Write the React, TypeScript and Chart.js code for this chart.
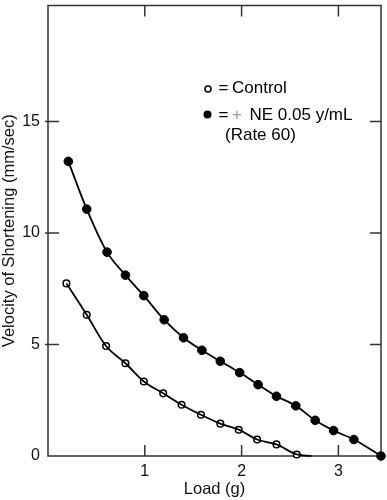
import React, { useEffect, useRef } from 'react';
import { Chart, registerables } from 'chart.js';

Chart.register(...registerables);

// Control (open circles)
const controlLoad = [0.19, 0.40, 0.60, 0.80, 0.99, 1.19, 1.38, 1.58, 1.78, 1.97, 2.16, 2.36, 2.57];
const controlVelocity = [7.74, 6.33, 4.93, 4.16, 3.34, 2.81, 2.30, 1.85, 1.45, 1.18, 0.74, 0.52, 0.07];
// where the control curve meets the load axis
const controlCurveEndLoad = [2.72];
const controlCurveEndVelocity = [0];

// + NE 0.05 y/mL (filled circles)
const neLoad = [0.21, 0.40, 0.61, 0.80, 0.99, 1.20, 1.40, 1.59, 1.78, 1.98, 2.17, 2.36, 2.56, 2.76, 2.95, 3.16, 3.44];
const neVelocity = [13.21, 11.07, 9.14, 8.11, 7.19, 6.11, 5.30, 4.74, 4.25, 3.74, 3.20, 2.68, 2.25, 1.60, 1.14, 0.74, 0];

const xTicks = [1, 2, 3];
const yTicks = [0, 5, 10, 15];
const yInnerTicks = [5, 10, 15];
const xMin = 0;
const xMax = 3.44;
const yMin = 0;
const yMax = 20.2;

const FONT = '"Liberation Sans", Arial, Helvetica, sans-serif';

const toPoints = (xs: number[], ys: number[]) => xs.map((x, i) => ({ x, y: ys[i] }));

const framePlugin = {
  id: 'frame',
  beforeDatasetsDraw(chart: any) {
    const { ctx, chartArea } = chart;
    const xs = chart.scales.x;
    const ys = chart.scales.y;
    const { left, right, top, bottom } = chartArea;
    ctx.save();
    ctx.strokeStyle = '#333';
    ctx.lineWidth = 1.5;
    ctx.beginPath();
    ctx.rect(left, top, right - left, bottom - top);
    ctx.stroke();
    const tl = 11;
    ctx.beginPath();
    xTicks.forEach((v) => {
      const px = xs.getPixelForValue(v);
      ctx.moveTo(px, bottom);
      ctx.lineTo(px, bottom - tl);
      ctx.moveTo(px, top);
      ctx.lineTo(px, top + tl);
    });
    yInnerTicks.forEach((v) => {
      const py = ys.getPixelForValue(v);
      ctx.moveTo(left - 3, py);
      ctx.lineTo(left + tl, py);
      ctx.moveTo(right, py);
      ctx.lineTo(right - tl, py);
    });
    ctx.stroke();
    ctx.restore();
  },
};

const legendPlugin = {
  id: 'customLegend',
  afterDraw(chart: any) {
    const { ctx } = chart;
    ctx.save();
    ctx.font = `17px ${FONT}`;
    ctx.textBaseline = 'alphabetic';
    ctx.textAlign = 'left';
    // open circle
    ctx.lineWidth = 1.5;
    ctx.strokeStyle = '#000';
    ctx.fillStyle = '#fff';
    ctx.beginPath();
    ctx.arc(208, 89, 3, 0, Math.PI * 2);
    ctx.fill();
    ctx.stroke();
    ctx.fillStyle = '#000';
    ctx.fillText('=', 218.5, 93);
    ctx.fillText('Control', 232, 93);
    // filled circle
    ctx.beginPath();
    ctx.arc(207.5, 114.5, 4, 0, Math.PI * 2);
    ctx.fill();
    ctx.fillText('=', 218.5, 120);
    ctx.fillStyle = '#999';
    ctx.fillText('+', 232, 120);
    ctx.fillStyle = '#000';
    ctx.fillText('NE 0.05 y/mL', 249.5, 120);
    ctx.fillText('(Rate 60)', 225, 139.5);
    ctx.restore();
  },
};

export default function App() {
  const canvasRef = useRef<HTMLCanvasElement | null>(null);

  useEffect(() => {
    if (!canvasRef.current) return;
    Chart.defaults.font.family = FONT;
    const chart = new Chart(canvasRef.current, {
      type: 'scatter',
      data: {
        datasets: [
          {
            label: 'NE curve',
            data: toPoints(neLoad, neVelocity),
            showLine: true,
            borderColor: '#000',
            borderWidth: 1.8,
            pointRadius: 0,
            cubicInterpolationMode: 'monotone',
            clip: false,
          } as any,
          {
            label: 'Control curve',
            data: toPoints(
              [...controlLoad, ...controlCurveEndLoad],
              [...controlVelocity, ...controlCurveEndVelocity]
            ),
            showLine: true,
            borderColor: '#000',
            borderWidth: 1.8,
            pointRadius: 0,
            cubicInterpolationMode: 'monotone',
            clip: false,
          } as any,
          {
            label: '+ NE 0.05 y/mL (Rate 60)',
            data: toPoints(neLoad, neVelocity),
            showLine: false,
            pointRadius: 4.3,
            pointBackgroundColor: '#000',
            pointBorderColor: '#000',
            pointBorderWidth: 1,
            clip: false,
          } as any,
          {
            label: 'Control',
            data: toPoints(controlLoad, controlVelocity),
            showLine: false,
            pointRadius: 3.3,
            pointBackgroundColor: '#fff',
            pointBorderColor: '#000',
            pointBorderWidth: 1.5,
            clip: false,
          } as any,
        ],
      },
      options: {
        animation: false,
        responsive: false,
        maintainAspectRatio: false,
        layout: { padding: { top: 1.5, right: 6, left: 0, bottom: 0 } },
        plugins: {
          legend: { display: false },
          tooltip: { enabled: false },
        },
        scales: {
          x: {
            type: 'linear',
            position: 'bottom',
            min: xMin,
            max: xMax,
            grid: { display: false, drawTicks: false },
            border: { display: false },
            afterBuildTicks: (scale: any) => {
              scale.ticks = xTicks.map((v) => ({ value: v }));
            },
            ticks: {
              padding: 6,
              color: '#111',
              font: { size: 16, family: FONT },
              callback: (v: any) => String(v),
            },
            title: {
              display: true,
              text: 'Load (g)',
              color: '#111',
              font: { size: 16.5, family: FONT },
              padding: { top: 0, bottom: 1 },
            },
            afterFit: (scale: any) => {
              scale.height = 44;
              scale.paddingLeft = 0;
              scale.paddingRight = 0;
            },
          },
          y: {
            type: 'linear',
            position: 'left',
            min: yMin,
            max: yMax,
            grid: { display: false, drawTicks: false },
            border: { display: false },
            afterBuildTicks: (scale: any) => {
              scale.ticks = yTicks.map((v) => ({ value: v }));
            },
            ticks: {
              padding: 8,
              color: '#111',
              font: { size: 16, family: FONT },
              callback: (v: any) => String(v),
            },
            title: {
              display: true,
              text: 'Velocity of Shortening (mm/sec)',
              color: '#111',
              font: { size: 16.5, family: FONT },
              padding: { top: 0, bottom: 0 },
            },
            afterFit: (scale: any) => {
              scale.width = 48;
              scale.paddingTop = 0;
              scale.paddingBottom = 0;
            },
          },
        },
      } as any,
      plugins: [framePlugin, legendPlugin],
    });
    return () => chart.destroy();
  }, []);

  return (
    <div style={{ position: 'fixed', left: 0, top: 0, width: 387, height: 500, background: '#fff' }}>
      <canvas ref={canvasRef} width={387} height={500} style={{ width: 387, height: 500, display: 'block' }} />
    </div>
  );
}
